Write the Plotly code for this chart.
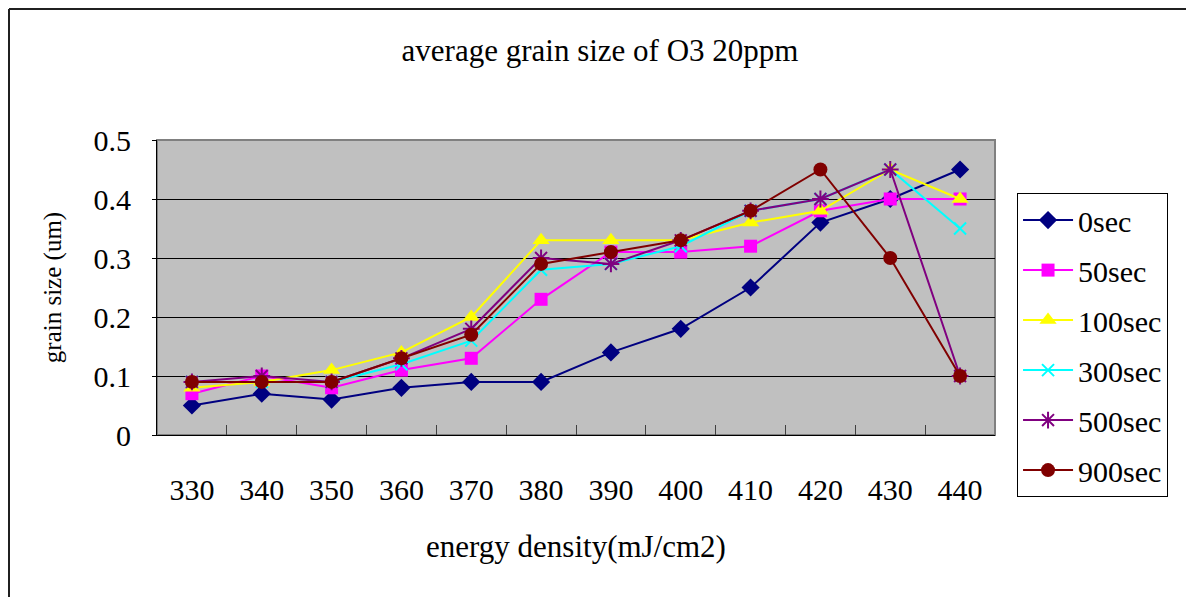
import plotly.graph_objects as go

energy = ["330", "340", "350", "360", "370", "380", "390", "400", "410", "420", "430", "440"]
s0 = [0.05, 0.07, 0.06, 0.08, 0.09, 0.09, 0.14, 0.18, 0.25, 0.36, 0.40, 0.45]
s50 = [0.07, 0.10, 0.08, 0.11, 0.13, 0.23, 0.31, 0.31, 0.32, 0.38, 0.40, 0.40]
s100 = [0.08, 0.09, 0.11, 0.14, 0.20, 0.33, 0.33, 0.33, 0.36, 0.38, 0.45, 0.40]
s300 = [0.09, 0.09, 0.09, 0.12, 0.16, 0.28, 0.29, 0.32, 0.38, 0.40, 0.45, 0.35]
s500 = [0.09, 0.10, 0.09, 0.13, 0.18, 0.30, 0.29, 0.33, 0.38, 0.40, 0.45, 0.10]
s900 = [0.09, 0.09, 0.09, 0.13, 0.17, 0.29, 0.31, 0.33, 0.38, 0.45, 0.30, 0.10]
y_ticks = [0, 0.1, 0.2, 0.3, 0.4, 0.5]
y_tick_text = ["0", "0.1", "0.2", "0.3", "0.4", "0.5"]

FONT = "Liberation Serif"
W, H = 1186, 589          # page body has an 8px margin
L, T, PW, PH = 149, 132, 838, 295

series = [
    ("0sec", s0, "#000080", "diamond", 14, None),
    ("50sec", s50, "#FF00FF", "square", 13, None),
    ("100sec", s100, "#FFFF00", "triangle-up", 15, None),
    ("300sec", s300, "#00FFFF", "x-thin-open", 12, 2),
    ("500sec", s500, "#800080", "asterisk-open", 14, 2),
    ("900sec", s900, "#800000", "circle", 14, None),
]

fig = go.Figure()
for name, vals, color, sym, size, lw in series:
    marker = dict(symbol=sym, size=size, color=color)
    if lw:
        marker["line"] = dict(color=color, width=lw)
    fig.add_trace(go.Scatter(
        x=energy, y=vals, name=name, mode="lines+markers",
        line=dict(color=color, width=2), marker=marker,
        legendgroup=name,
    ))

fig.update_layout(
    width=W, height=H,
    paper_bgcolor="white", plot_bgcolor="#C0C0C0",
    margin=dict(l=L, r=W - L - PW, t=T, b=H - T - PH, autoexpand=False),
    font=dict(family=FONT, color="black", size=30),
    title=dict(text="average grain size of O3 20ppm", x=592 / W, xref="container",
               y=1 - 42 / H, yref="container", xanchor="center", yanchor="middle",
               font=dict(family=FONT, size=31, color="black")),
    showlegend=True,
    legend=dict(x=1.0263, y=0.82, xanchor="left", yanchor="top",
                bgcolor="white", bordercolor="black", borderwidth=1,
                font=dict(family=FONT, size=30, color="black"),
                tracegroupgap=8, itemwidth=50, entrywidth=141, maxheight=560),
)

fig.update_xaxes(
    type="category", range=[-0.5, 11.5],
    showline=True, linecolor="black", linewidth=1, mirror=False,
    ticks="inside", ticklen=10, tickcolor="#404040", tickson="boundaries",
    showgrid=False, ticklabelstandoff=28,
    tickfont=dict(family=FONT, size=30),
    title=dict(text="energy density(mJ/cm2)", standoff=30,
               font=dict(family=FONT, size=31)),
)
fig.update_yaxes(
    range=[0, 0.5], tickvals=y_ticks, ticktext=y_tick_text,
    showline=True, linecolor="black", linewidth=1,
    ticks="outside", ticklen=4, tickcolor="black",
    showgrid=True, gridcolor="black", gridwidth=1,
    zeroline=False, ticklabelstandoff=15,
    tickfont=dict(family=FONT, size=30),
    title=dict(text="grain size (um)", standoff=24,
               font=dict(family=FONT, size=25)),
)

# plot area border (gray)
fig.add_shape(type="rect", xref="paper", yref="paper", x0=0, x1=1, y0=0, y1=1,
              line=dict(color="#808080", width=2), layer="below")
# outer chart frame: left and top edges
fx = (1 - L) / PW
fy = (T + PH - 1) / PH
fig.add_shape(type="line", xref="paper", yref="paper",
              x0=fx, x1=fx, y0=-(H - T - PH + 5) / PH, y1=fy,
              line=dict(color="#202020", width=2), layer="above")
fig.add_shape(type="line", xref="paper", yref="paper",
              x0=fx, x1=(W + 5 - L) / PW, y0=fy, y1=fy,
              line=dict(color="#202020", width=2), layer="above")

fig.write_html("out.html")
